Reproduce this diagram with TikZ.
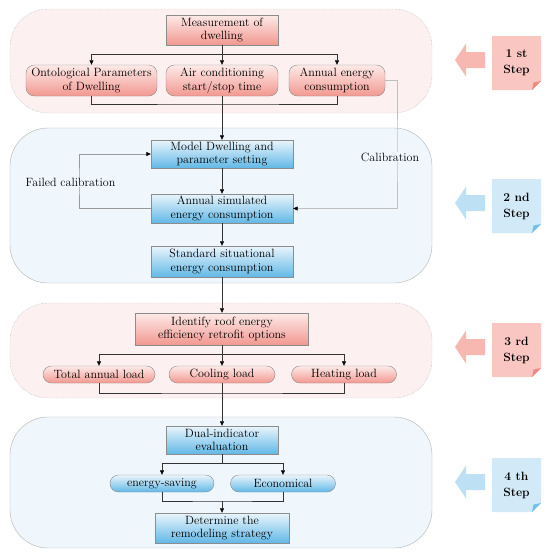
\documentclass[tikz,border=0pt]{standalone}
\usetikzlibrary{arrows.meta}

\definecolor{panelpink}{HTML}{FDF0F1}
\definecolor{panelblue}{HTML}{EFF7FD}
\definecolor{pinktop}{HTML}{FDEAE8}
\definecolor{pinkbot}{HTML}{F29890}
\definecolor{bluetop}{HTML}{EAF5FC}
\definecolor{bluebot}{HTML}{62B8E6}
\definecolor{notepink}{HTML}{F9C6C1}
\definecolor{arrpink}{HTML}{F8B8B2}
\definecolor{foldpink}{HTML}{EE8A82}
\definecolor{noteblue}{HTML}{D2E9F8}
\definecolor{arrblue}{HTML}{BDE0F5}
\definecolor{foldblue}{HTML}{6FC2EC}

\tikzset{
  every node/.style={font=\fontsize{12}{13.5}\selectfont},
  pinkpanel/.style={draw=gray!70, densely dotted, fill=panelpink, rounded corners=38pt},
  bluepanel/.style={draw=gray!60, fill=panelblue, rounded corners=38pt},
  pinkbox/.style={draw=gray!90, top color=pinktop, bottom color=pinkbot, align=center, inner sep=0pt},
  bluebox/.style={draw=gray!90, top color=bluetop, bottom color=bluebot, align=center, inner sep=0pt},
  pill/.style={rounded corners=8.5pt},
  arr/.style={-{Triangle[length=4.5pt,width=4pt,color=black]}},
  link/.style={draw=black!80, line width=0.6pt},
  lbl/.style={inner sep=1pt}
}

\begin{document}
\begin{tikzpicture}[x=1pt,y=-1pt]
  \useasboundingbox (0,0) rectangle (550,558);

  % the four stages
  \draw[pinkpanel] (10,9) rectangle (432,113);
  \draw[bluepanel] (10,128) rectangle (432,283);
  \draw[pinkpanel] (10,303) rectangle (432,398);
  \draw[bluepanel] (10,417) rectangle (432,548);

  % stage 1
  \node[pinkbox, minimum width=112, minimum height=30] (meas) at (222,30) {Measurement of\\dwelling};
  \node[pinkbox, pill, minimum width=131, minimum height=31] (onto) at (91.5,80.5) {Ontological Parameters\\of Dwelling};
  \node[pinkbox, pill, minimum width=112, minimum height=31] (aircon) at (222,80.5) {Air conditioning\\start/stop time};
  \node[pinkbox, pill, minimum width=96, minimum height=31] (annual) at (337,80.5) {Annual energy\\consumption};

  % stage 2
  \node[bluebox, minimum width=142, minimum height=28] (model) at (222,154) {Model Dwelling and\\parameter setting};
  \node[bluebox, minimum width=142, minimum height=29] (sim) at (222,208.5) {Annual simulated\\energy consumption};
  \node[bluebox, minimum width=142, minimum height=31] (std) at (222,261.5) {Standard situational\\energy consumption};

  % stage 3
  \node[pinkbox, minimum width=173, minimum height=32] (ident) at (222,329) {Identify roof energy\\efficiency retrofit options};
  \node[pinkbox, pill, minimum width=112, minimum height=17] (total) at (99,374.5) {Total annual load};
  \node[pinkbox, pill, minimum width=106, minimum height=17] (cool) at (222,374.5) {Cooling load};
  \node[pinkbox, pill, minimum width=105, minimum height=17] (heat) at (344,374.5) {Heating load};

  % stage 4
  \node[bluebox, minimum width=112, minimum height=28] (dual) at (222,440) {Dual-indicator\\evaluation};
  \node[bluebox, pill, minimum width=104, minimum height=17] (esave) at (162,483.5) {energy-saving};
  \node[bluebox, pill, minimum width=105, minimum height=17] (econ) at (283,483.5) {Economical};
  \node[bluebox, minimum width=134, minimum height=30] (determ) at (222,528) {Determine the\\remodeling strategy};

  % connectors
  \coordinate (b1) at (222,54);
  \coordinate (m1) at (222,104);
  \draw[link] (meas) -- (b1);
  \draw[link, arr] (b1) -| (onto);
  \draw[link, arr] (b1) -| (annual);
  \draw[link, arr] (b1) -- (aircon);
  \draw[link] (onto.south) |- (m1) -| (annual.south);
  \draw[link, arr] (aircon) -- (model);

  \draw[link, arr] (model) -- (sim);
  \draw[link, arr] (sim) -- (std);
  \draw[link, arr] (std) -- (ident);

  \coordinate (fail) at (79,182);
  \draw[draw=gray!80, line width=0.5pt, arr] (sim.west) -| (fail) |- (model.west);
  \coordinate (cal) at (397,157);
  \draw[draw=gray!50, line width=0.4pt, arr] (annual.east) -| (cal) |- (sim.east);
  \node[lbl, fill=panelblue] (failtxt) at (70.5,182) {Failed calibration};
  \node[lbl, fill=panelblue] (caltxt) at (390,157) {Calibration};

  \coordinate (b3) at (222,354);
  \coordinate (m3) at (222,393);
  \draw[link, arr] (b3) -| (total);
  \draw[link, arr] (b3) -| (heat);
  \draw[link, arr] (ident) -- (cool);
  \draw[link] (total.south) |- (m3) -| (heat.south);
  \draw[link, arr] (cool) -- (dual);

  \coordinate (b4) at (222,463);
  \coordinate (m4) at (222,501);
  \draw[link, arr] (dual.south) -- (b4) -| (esave);
  \draw[link, arr] (b4) -| (econ);
  \draw[link] (esave.south) |- (m4) -| (econ.south);
  \draw[link, arr] (m4) -- (determ);

  % step markers
  \foreach \yy/\num/\nc/\ac/\fc [count=\k] in {63/1 st/notepink/arrpink/foldpink,
      206/2 nd/noteblue/arrblue/foldblue,
      350/3 rd/notepink/arrpink/foldpink,
      485/4 th/noteblue/arrblue/foldblue}
  {
    \fill[\ac] (455,\yy-3) -- ++(11,-16.5) -- ++(0,8.5) -- ++(19,0) -- ++(0,16) -- ++(-19,0) -- ++(0,8.5) -- cycle;
    \fill[\nc] (492,\yy-27) -- (541,\yy-27) -- (541,\yy+18) -- (532,\yy+27) -- (492,\yy+27) -- cycle;
    \fill[\fc] (541,\yy+18) -- (532,\yy+27) -- (533.5,\yy+19.5) -- cycle;
    \node[align=center, font=\fontsize{12}{16}\selectfont\bfseries] (step\k) at (516.5,\yy) {\num\\Step};
  }
\end{tikzpicture}
\end{document}
